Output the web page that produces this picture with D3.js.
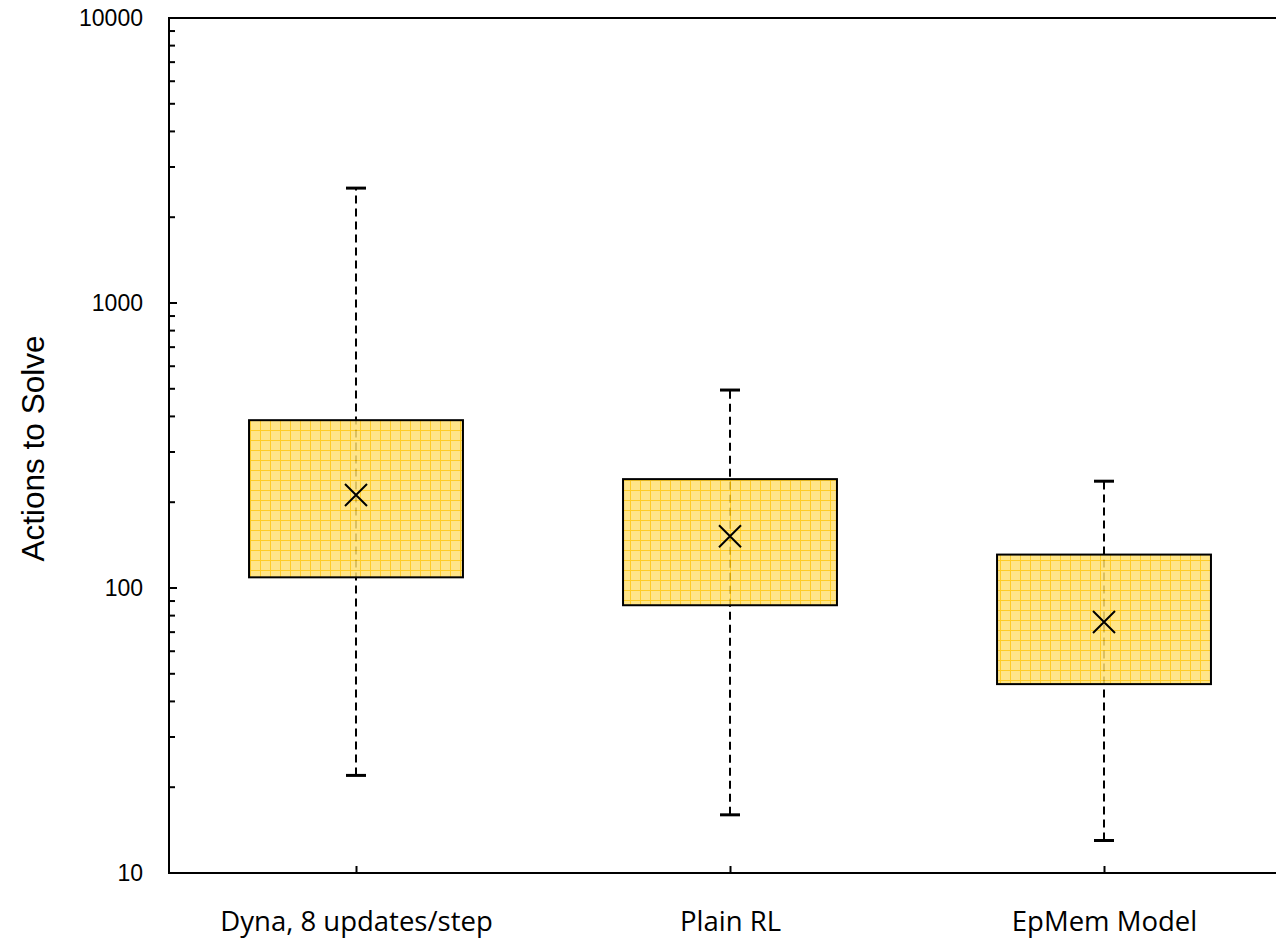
<!DOCTYPE html>
<html>
<head>
<meta charset="utf-8">
<script src="https://cdn.jsdelivr.net/npm/d3@7"></script>
<style>
  body { margin: 0; background: #fff; }
  svg { display: block; }
</style>
</head>
<body>
<svg id="chart" width="1276" height="944"></svg>
<script>
// data
var categories = ["Dyna, 8 updates/step", "Plain RL", "EpMem Model"];
var q1 = [109, 87, 46];
var q3 = [388, 241, 131];
var means = [212, 152, 76];
var whiskerLow = [22, 16, 13];
var whiskerHigh = [2530, 495, 237];
var yTicks = [10, 100, 1000, 10000];

var svg = d3.select("#chart");
var plotLeft = 169, plotTop = 18, plotBottom = 873;

var y = d3.scaleLog().domain([10, 10000]).range([plotBottom, plotTop]);
// the category axis runs past the right edge of the picture
var x = d3.scalePoint().domain(categories).range([plotLeft, 1291]).padding(0.5);
var boxW = x.step() * 0.572;

var rows = categories.map(function(c, i) {
  return {cat: c, q1: q1[i], q3: q3[i], mean: means[i], lo: whiskerLow[i], hi: whiskerHigh[i]};
});

// grid fill pattern for the boxes
var defs = svg.append("defs");
var pat = defs.append("pattern")
  .attr("id", "grid")
  .attr("patternUnits", "userSpaceOnUse")
  .attr("width", 10).attr("height", 10);
pat.append("rect").attr("width", 10).attr("height", 10).attr("fill", "#ffe074");
pat.append("path")
  .attr("d", "M0.5,0V10M0,0.5H10")
  .attr("stroke", "#ffc300").attr("stroke-width", 1);

// whiskers (under the box)
svg.selectAll(".whisker")
  .data(rows)
  .enter().append("line")
  .attr("class", "whisker")
  .attr("x1", function(d) { return x(d.cat); })
  .attr("x2", function(d) { return x(d.cat); })
  .attr("y1", function(d) { return y(d.lo); })
  .attr("y2", function(d) { return y(d.hi); })
  .attr("stroke", "#000")
  .attr("stroke-width", 2)
  .attr("stroke-dasharray", "8,5");

svg.selectAll(".cap")
  .data(rows.flatMap(function(d) { return [{cat: d.cat, v: d.lo}, {cat: d.cat, v: d.hi}]; }))
  .enter().append("line")
  .attr("class", "cap")
  .attr("x1", function(d) { return x(d.cat) - 10; })
  .attr("x2", function(d) { return x(d.cat) + 10; })
  .attr("y1", function(d) { return y(d.v); })
  .attr("y2", function(d) { return y(d.v); })
  .attr("stroke", "#000")
  .attr("stroke-width", 3);

// boxes
svg.selectAll(".box")
  .data(rows)
  .enter().append("rect")
  .attr("class", "box")
  .attr("x", function(d) { return x(d.cat) - boxW / 2; })
  .attr("width", boxW)
  .attr("y", function(d) { return y(d.q3); })
  .attr("height", function(d) { return y(d.q1) - y(d.q3); })
  .attr("fill", "url(#grid)")
  .attr("fill-opacity", 0.85)
  .attr("stroke", "#000")
  .attr("stroke-width", 2);

// mean markers
svg.selectAll(".mean")
  .data(rows)
  .enter().append("path")
  .attr("class", "mean")
  .attr("transform", function(d) { return "translate(" + x(d.cat) + "," + y(d.mean) + ")"; })
  .attr("d", "M-11,-11L11,11M-11,11L11,-11")
  .attr("stroke", "#000")
  .attr("stroke-width", 2)
  .attr("fill", "none");

// y axis with log minor ticks
var minor = [];
for (var p = 10; p < 10000; p *= 10) {
  for (var k = 2; k <= 9; k++) minor.push(p * k);
}
svg.append("g")
  .selectAll("line")
  .data(minor)
  .enter().append("line")
  .attr("x1", plotLeft).attr("x2", plotLeft + 6)
  .attr("y1", function(d) { return y(d); })
  .attr("y2", function(d) { return y(d); })
  .attr("stroke", "#000").attr("stroke-width", 2);

var yAxis = svg.append("g")
  .attr("transform", "translate(" + plotLeft + ",0)")
  .call(d3.axisLeft(y).tickValues(yTicks).tickFormat(d3.format("d")).tickSize(0).tickPadding(26));
yAxis.select(".domain").remove();
yAxis.selectAll("text")
  .style("font-family", "Arial, 'Liberation Sans', sans-serif")
  .style("font-size", "23px")
  .attr("fill", "#000");
svg.append("g")
  .selectAll("line")
  .data(yTicks)
  .enter().append("line")
  .attr("x1", plotLeft).attr("x2", plotLeft + 8)
  .attr("y1", function(d) { return y(d); })
  .attr("y2", function(d) { return y(d); })
  .attr("stroke", "#000").attr("stroke-width", 2);

svg.append("line")
  .attr("x1", plotLeft).attr("x2", plotLeft).attr("y1", plotTop - 1).attr("y2", plotBottom + 1)
  .attr("stroke", "#000").attr("stroke-width", 2);
svg.append("line")
  .attr("x1", plotLeft - 1).attr("x2", 1276).attr("y1", plotTop).attr("y2", plotTop)
  .attr("stroke", "#000").attr("stroke-width", 2);

// x axis
var xAxis = svg.append("g")
  .attr("transform", "translate(0," + plotBottom + ")")
  .call(d3.axisBottom(x).tickSize(0).tickPadding(38));
xAxis.select(".domain").remove();
xAxis.selectAll("text")
  .style("font-family", "'Open Sans', sans-serif")
  .style("font-size", "27.5px")
  .attr("fill", "#000");
xAxis.selectAll(".tick").append("line")
  .attr("y1", 0).attr("y2", -7)
  .attr("stroke", "#000").attr("stroke-width", 2);
svg.append("line")
  .attr("x1", plotLeft - 1).attr("x2", 1276).attr("y1", plotBottom).attr("y2", plotBottom)
  .attr("stroke", "#000").attr("stroke-width", 2);

// y title
svg.append("text")
  .attr("transform", "translate(44," + ((plotTop + plotBottom) / 2 + 3) + ") rotate(-90)")
  .attr("text-anchor", "middle")
  .style("font-family", "Arial, 'Liberation Sans', sans-serif")
  .style("font-size", "31.5px")
  .text("Actions to Solve");
</script>
</body>
</html>
